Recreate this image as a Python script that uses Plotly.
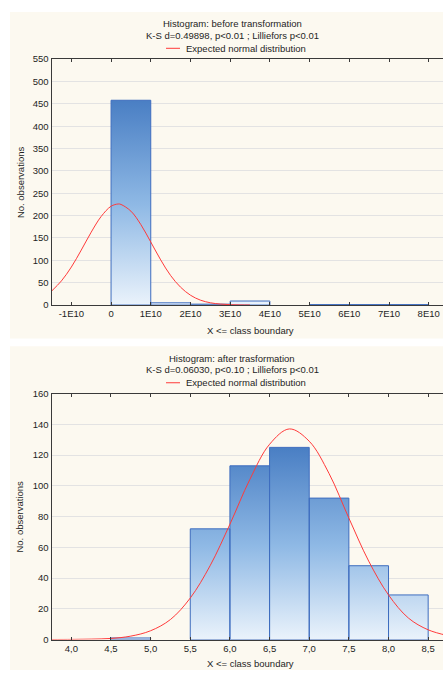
import plotly.graph_objects as go

# ---------------- data ----------------
# Top histogram: before transformation (bin width 1E10)
top_bin_left = [0.0, 1.0e10, 2.0e10, 3.0e10, 4.0e10, 5.0e10, 6.0e10, 7.0e10]
top_bin_width = 1.0e10
top_counts = [458, 5, 2, 9, 0, 1, 1, 1]
top_curve_x = [-1.5e10, -1.25e10, -1.0e10, -0.75e10, -0.5e10, -0.25e10, 0.0, 0.18e10,
               0.25e10, 0.5e10, 0.75e10, 1.0e10, 1.25e10, 1.5e10, 1.75e10, 2.0e10,
               2.25e10, 2.5e10, 2.75e10, 3.0e10, 3.25e10, 3.5e10]
top_curve_y = [31, 54, 85, 123, 163, 198, 221, 226, 225, 210, 180, 141, 101, 66,
               40, 22, 11, 5.1, 2.2, 0.8, 0.3, 0.1]
top_tick_vals = [-1e10, 0, 1e10, 2e10, 3e10, 4e10, 5e10, 6e10, 7e10, 8e10]
top_tick_text = ["-1E10", "0", "1E10", "2E10", "3E10", "4E10", "5E10", "6E10", "7E10", "8E10"]

# Bottom histogram: after transformation (bin width 0.5)
bot_bin_left = [4.0, 4.5, 5.0, 5.5, 6.0, 6.5, 7.0, 7.5, 8.0]
bot_bin_width = 0.5
bot_counts = [0, 1, 0, 72, 113, 125, 92, 48, 29]
bot_curve_x = [3.75, 4.0, 4.25, 4.5, 4.75, 5.0, 5.25, 5.5, 5.75, 6.0, 6.25, 6.5, 6.75,
               7.0, 7.25, 7.5, 7.75, 8.0, 8.25, 8.5, 8.75]
bot_curve_y = [0.01, 0.06, 0.25, 0.7, 2.2, 5.7, 13, 27, 48, 75, 104, 127, 137,
               129, 108, 79, 51, 29, 14, 6.3, 2.5]
bot_tick_vals = [4.0, 4.5, 5.0, 5.5, 6.0, 6.5, 7.0, 7.5, 8.0, 8.5]
bot_tick_text = ["4,0", "4,5", "5,0", "5,5", "6,0", "6,5", "7,0", "7,5", "8,0", "8,5"]

top_title = ["Histogram: before transformation", "K-S d=0.49898, p<0.01 ; Lilliefors p<0.01"]
bot_title = ["Histogram: after trasformation", "K-S d=0.06030, p<0.10 ; Lilliefors p<0.01"]
legend_text = "Expected normal distribution"

# ---------------- layout helpers ----------------
W, H = 443, 675
FONT = "Liberation Sans, Arial, sans-serif"
FS = 9.5
TXT = "#1e1e1e"
CREAM = "#fcf9f0"
BAR_LINE = "#3e6dbf"
RED = "#ff3a3a"


def px(p):
    return p / W


def py(p):
    return 1 - p / H


def bar_polygons(lefts, width, counts):
    xs, ys = [], []
    for l, c in zip(lefts, counts):
        if c <= 0:
            continue
        xs += [l, l, l + width, l + width, l, None]
        ys += [0, c, c, 0, 0, None]
    return xs, ys


fig = go.Figure()

scale = [[0, "#eef5fc"], [0.5, "#8fb9e5"], [1, "#4a7fc4"]]

for xs_l, w, cnts, cx, cy, xa, ya in [
    (top_bin_left, top_bin_width, top_counts, top_curve_x, top_curve_y, "x", "y"),
    (bot_bin_left, bot_bin_width, bot_counts, bot_curve_x, bot_curve_y, "x2", "y2"),
]:
    bx, by = bar_polygons(xs_l, w, cnts)
    fig.add_trace(go.Scatter(
        x=bx, y=by, mode="lines", fill="toself",
        line=dict(color=BAR_LINE, width=1),
        fillgradient=dict(type="vertical", colorscale=scale, start=0, stop=max(cnts)),
        xaxis=xa, yaxis=ya, showlegend=False, hoverinfo="skip",
    ))
    fig.add_trace(go.Scatter(
        x=cx, y=cy, mode="lines", line=dict(color=RED, width=1, shape="spline"),
        xaxis=xa, yaxis=ya, showlegend=False, name=legend_text, cliponaxis=True,
    ))

axis_common = dict(
    showline=True, linecolor="#3a3a3a", linewidth=1,
    tickfont=dict(family=FONT, size=FS, color=TXT),
    zeroline=False,
)

x_dom = [px(51.5), 1]
fig.update_layout(
    width=W, height=H,
    margin=dict(l=0, r=0, t=0, b=0),
    paper_bgcolor="white", plot_bgcolor="white",
    font=dict(family=FONT, size=FS, color=TXT),
    showlegend=False,
    xaxis=dict(domain=x_dom, anchor="y", range=[-1.5e10, 8.36e10],
               tickvals=top_tick_vals, ticktext=top_tick_text,
               ticks="inside", ticklen=3, tickcolor="#3a3a3a", mirror="ticks",
               showgrid=False, **axis_common),
    yaxis=dict(domain=[py(304), py(54)], anchor="x", range=[0, 550], dtick=50,
               ticks="", showgrid=True, gridcolor="#e3e3e3", gridwidth=1, mirror=False,
               **axis_common),
    xaxis2=dict(domain=x_dom, anchor="y2", range=[3.75, 8.687],
                tickvals=bot_tick_vals, ticktext=bot_tick_text,
                ticks="inside", ticklen=3, tickcolor="#3a3a3a", mirror="ticks",
                showgrid=False, **axis_common),
    yaxis2=dict(domain=[py(644), py(394)], anchor="x2", range=[0, 160], dtick=20,
                ticks="", showgrid=True, gridcolor="#e3e3e3", gridwidth=1, mirror=False,
                **axis_common),
)

shapes = [
    dict(type="rect", xref="paper", yref="paper", x0=px(10), x1=1, y0=py(338), y1=py(6),
         fillcolor=CREAM, line=dict(width=0), layer="below"),
    dict(type="rect", xref="paper", yref="paper", x0=px(10), x1=1, y0=0, y1=py(346),
         fillcolor=CREAM, line=dict(width=0), layer="below"),
]
annotations = []


def ann(text, x, y, xanchor="center", angle=0):
    annotations.append(dict(text=text, x=x, y=y, xref="paper", yref="paper",
                            xanchor=xanchor, yanchor="middle", showarrow=False,
                            textangle=angle, font=dict(family=FONT, size=FS, color=TXT)))


for title, y0, yplot_top, yplot_bot, xlab_y in [
    (top_title, 18, 54, 304, 330),
    (bot_title, 358, 394, 644, 668),
]:
    ann(title[0], px(232.5), py(y0))
    ann(title[1], px(232.5), py(y0 + 12))
    shapes.append(dict(type="line", xref="paper", yref="paper",
                       x0=px(166), x1=px(180), y0=py(y0 + 25), y1=py(y0 + 25),
                       line=dict(color=RED, width=1)))
    ann(legend_text, px(184), py(y0 + 25), xanchor="left")
    ann("No. observations", px(20), py((yplot_top + yplot_bot) / 2), angle=-90)
    ann("X &lt;= class boundary", px(250), py(xlab_y))

fig.update_layout(shapes=shapes, annotations=annotations)

fig.write_html(
    "out.html",
    config={"displayModeBar": False},
    post_script="document.body.style.margin='0px';document.body.style.overflow='hidden';",
)
